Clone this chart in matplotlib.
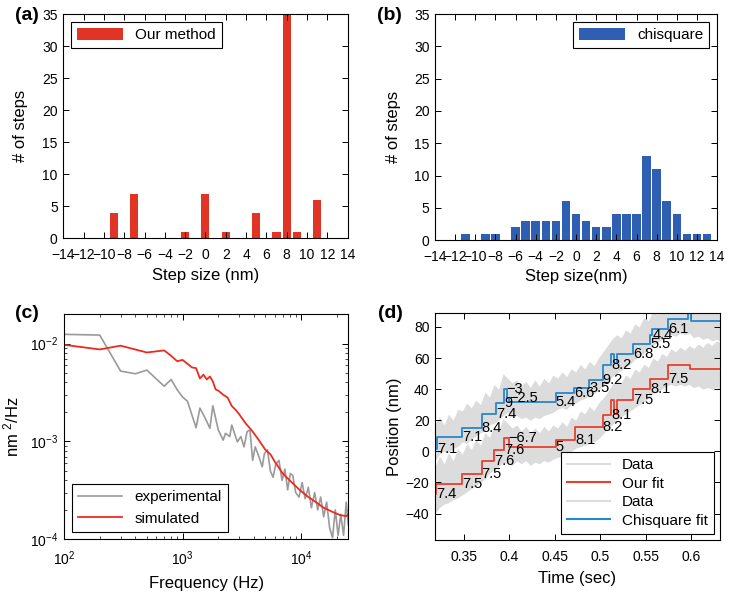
import matplotlib
matplotlib.use("Agg")
import matplotlib.pyplot as plt
from matplotlib.lines import Line2D

plt.rcParams["font.family"] = ["Liberation Sans", "DejaVu Sans"]
plt.rcParams["mathtext.fontset"] = "custom"
plt.rcParams["mathtext.rm"] = "Liberation Sans"
plt.rcParams["mathtext.it"] = "Liberation Sans:italic"

# (a) step size histogram, our method
ours_sizes = [-9, -7, -2, 0, 2, 5, 7, 8, 9, 11]
ours_counts = [4, 7, 1, 7, 1, 4, 1, 35, 1, 6]

# (b) step size histogram, chisquare
chi_sizes = [-11, -9, -8, -6, -5, -4, -3, -2, -1, 0, 1, 2, 3, 4, 5, 6, 7, 8, 9, 10, 11, 12, 13]
chi_counts = [1, 1, 1, 2, 3, 3, 3, 3, 6, 4, 3, 2, 2, 4, 4, 4, 13, 11, 6, 4, 1, 1, 1]

# (c) power spectra
exp_freq = [100, 200, 300, 400, 500, 700, 800, 900, 1000, 1100, 1300, 1400, 1500, 1600,
            1700, 1800, 1900, 2000, 2200, 2300, 2500, 2600, 2800, 2900, 3100, 3300, 3500,
            3700, 3900, 4100, 4400, 4700, 4900, 5200, 5500, 5800, 6100, 6500, 6900, 7300,
            7700, 8100, 8500, 9000, 9600, 10200, 10800, 11500, 12200, 13000, 13800, 14600,
            15500, 16400, 17400, 18400, 19400, 20500, 21600, 22800, 24000, 25000]
exp_psd = [0.0124, 0.0122, 0.00523, 0.00491, 0.00535, 0.00366, 0.00429, 0.00338, 0.00284,
           0.00257, 0.00138, 0.00219, 0.00187, 0.00160, 0.00136, 0.00231, 0.00173, 0.00131,
           0.00103, 0.00121, 0.00112, 0.00147, 0.00112, 0.00099, 0.00112, 0.00088, 0.00126,
           0.00131, 0.00064, 0.00088, 0.00070, 0.00055, 0.00075, 0.00082, 0.00050, 0.00043,
           0.00058, 0.00064, 0.00040, 0.00052, 0.00032, 0.00047, 0.00045, 0.00030, 0.00027,
           0.00038, 0.00026, 0.00034, 0.00021, 0.00030, 0.00020, 0.00027, 0.00017, 0.00024,
           0.00013, 0.000104, 0.00020, 0.00011, 0.00018, 0.00011, 0.00024, 0.00014]
sim_freq = [100, 200, 300, 500, 700, 800, 900, 1000, 1100, 1200, 1300, 1400, 1500, 1600,
            1700, 1800, 1900, 2000, 2200, 2400, 2600, 2800, 3000, 3400, 3700, 3900, 4400,
            5000, 5500, 6000, 7000, 8000, 9700, 11500, 13300, 15500, 18500, 21000, 24000, 25000]
sim_psd = [0.0097, 0.0087, 0.0095, 0.0081, 0.0085, 0.0075, 0.0066, 0.0068, 0.0062, 0.0057,
           0.0056, 0.0044, 0.0048, 0.0043, 0.0046, 0.0041, 0.0034, 0.0033, 0.0030, 0.0028,
           0.0023, 0.0021, 0.0019, 0.00153, 0.00136, 0.00126, 0.00103, 0.00082, 0.00074,
           0.00062, 0.00047, 0.00040, 0.00032, 0.00027, 0.00024, 0.00021, 0.00019, 0.000178,
           0.000172, 0.00018]

# (d) traces: noisy data envelopes and fitted staircases
data_t = [0.318, 0.323, 0.328, 0.333, 0.338, 0.343, 0.348, 0.353, 0.358, 0.363, 0.368,
          0.373, 0.378, 0.383, 0.388, 0.393, 0.398, 0.403, 0.408, 0.413, 0.418, 0.423,
          0.428, 0.433, 0.438, 0.443, 0.448, 0.453, 0.458, 0.463, 0.468, 0.473, 0.478,
          0.483, 0.488, 0.493, 0.498, 0.503, 0.508, 0.513, 0.518, 0.523, 0.528, 0.533,
          0.538, 0.543, 0.548, 0.553, 0.558, 0.563, 0.568, 0.573, 0.578, 0.583, 0.588,
          0.593, 0.598, 0.603, 0.608, 0.613, 0.618, 0.623, 0.628, 0.632]
upper_lo = [-6, -2, 0, -1, 2, 3, 6, 5, 8, 10, 12, 13, 17, 18, 20, 23, 25, 22, 23, 21, 22,
            20, 22, 21, 23, 24, 25, 27, 28, 27, 30, 31, 33, 34, 36, 37, 39, 42, 45, 48, 50,
            52, 54, 56, 59, 61, 63, 66, 68, 70, 72, 74, 75, 74, 76, 75, 76, 73, 74, 72, 73,
            71, 72, 71]
upper_hi = [18, 22, 17, 24, 20, 27, 26, 31, 28, 33, 30, 38, 35, 43, 40, 50, 47, 44, 46, 42,
            45, 41, 46, 42, 47, 44, 49, 47, 51, 48, 53, 51, 56, 53, 58, 55, 60, 64, 68, 72,
            75, 73, 78, 76, 82, 80, 86, 84, 90, 88, 92, 91, 95, 93, 95, 94, 96, 95, 94, 96,
            95, 94, 96, 95]
lower_lo = [-40, -36, -34, -33, -31, -30, -28, -26, -24, -22, -20, -18, -14, -12, -10, -7,
            -8, -9, -6, -8, -6, -9, -7, -8, -6, -7, -5, -4, -3, -4, 0, 2, 3, 4, 5, 6, 8, 11,
            14, 17, 20, 22, 24, 26, 28, 30, 32, 34, 37, 38, 40, 42, 43, 42, 43, 42, 43, 41,
            42, 40, 41, 40, 41, 40]
lower_hi = [-10, -3, -8, -1, -6, 2, -2, 5, 1, 8, 4, 12, 9, 16, 13, 21, 18, 15, 17, 13, 16,
            12, 15, 12, 16, 13, 17, 15, 19, 16, 22, 20, 26, 24, 29, 26, 31, 34, 38, 43, 46,
            44, 49, 47, 53, 51, 56, 54, 60, 58, 63, 61, 66, 64, 67, 65, 68, 66, 69, 67, 70,
            68, 71, 70]

chi_t = [0.318, 0.3202, 0.3475, 0.3695, 0.385, 0.394, 0.397, 0.400, 0.451, 0.4714, 0.488,
         0.5027, 0.512, 0.515, 0.519, 0.5365, 0.555, 0.5574, 0.5745, 0.5965, 0.600, 0.632]
chi_pos = [1.7, 9.2, 15.2, 23.8, 31, 40, 34, 31.7, 37.5, 41, 45.7, 55.3, 62.8, 57, 62.8,
           69.3, 74.6, 78.9, 85.3, 89, 84, 84]
chi_labels = ["", "7.1", "7.1", "8.4", "7.4", "9", "\u22123", "\u22122.5", "5.4", "6.6", "3.5",
              "9.2", "8.2", "", "", "6.8", "5.5", "4.4", "6.1", "", "", ""]

our_t = [0.318, 0.3195, 0.3475, 0.3695, 0.383, 0.394, 0.399, 0.451, 0.4725, 0.5027, 0.512,
         0.515, 0.519, 0.5365, 0.555, 0.5745, 0.599, 0.632]
our_pos = [-27.7, -21.2, -14.3, -6.2, 1.1, 8.6, 3.0, 7.5, 15.6, 23.2, 32.8, 24, 32.8, 39.9,
           46.8, 55.3, 53.2, 53.2]
our_labels = ["", "7.4", "7.5", "7.5", "7.6", "7.6", "\u22126.7", "5", "8.1", "8.2", "8.1",
              "", "", "7.5", "8.1", "7.5", "", ""]

RED_BAR = "#e03424"
BLUE_BAR = "#2f5fb3"
RED_LINE = "#ee2a1e"
GRAY_LINE = "#9a9a9a"
FIT_RED = "#e8402e"
FIT_BLUE = "#2a86cc"
DATA_GRAY = "#dcdcdc"


def style_axes(ax):
    ax.tick_params(direction="in", top=True, right=True, length=4, width=0.7,
                   labelsize=10, pad=4)
    ax.tick_params(axis="x", pad=7)
    ax.tick_params(which="minor", direction="in", top=True, right=True, length=2, width=0.5)
    for spine in ax.spines.values():
        spine.set_linewidth(0.8)


def box_legend(ax, **kw):
    leg = ax.legend(fancybox=False, framealpha=1, edgecolor="black", fontsize=11, **kw)
    leg.get_frame().set_linewidth(0.8)
    return leg


fig = plt.figure(figsize=(7.29, 5.96), dpi=100)

# (a)
ax = fig.add_axes([0.0868, 0.600, 0.390, 0.3765])
ax.bar(ours_sizes, ours_counts, width=0.8, color=RED_BAR, label="Our method")
ax.set_xlim(-14, 14)
ax.set_ylim(0, 35)
ax.set_xticks(range(-14, 15, 2))
ax.set_yticks(range(0, 36, 5))
ax.set_xlabel("Step size (nm)", fontsize=12, labelpad=4)
ax.set_ylabel("# of steps", fontsize=12, labelpad=10)
style_axes(ax)
box_legend(ax, loc="upper left", handlelength=3.0, handleheight=0.9, borderaxespad=0.5)

# (b)
ax = fig.add_axes([0.5967, 0.597, 0.387, 0.3795])
ax.bar(chi_sizes, chi_counts, width=0.85, color=BLUE_BAR, label="chisquare")
ax.set_xlim(-14, 14)
ax.set_ylim(0, 35)
ax.set_xticks(range(-14, 15, 2))
ax.set_yticks(range(0, 36, 5))
ax.set_xlabel("Step size(nm)", fontsize=12, labelpad=4)
ax.set_ylabel("# of steps", fontsize=12, labelpad=9)
style_axes(ax)
box_legend(ax, loc="upper right", handlelength=3.0, handleheight=0.9, borderaxespad=0.5)

# (c)
ax = fig.add_axes([0.0878, 0.0951, 0.390, 0.378])
ax.loglog(exp_freq, exp_psd, color=GRAY_LINE, lw=1.2, label="experimental")
ax.loglog(sim_freq, sim_psd, color=RED_LINE, lw=1.3, label="simulated")
ax.set_xlim(100, 25000)
ax.set_ylim(1e-4, 2e-2)
ax.set_xlabel("Frequency (Hz)", fontsize=12, labelpad=6)
ax.set_ylabel("nm $^2$/Hz", fontsize=12, labelpad=6)
style_axes(ax)
box_legend(ax, loc="lower left", handlelength=2.9, borderaxespad=0.5)

# (d)
ax = fig.add_axes([0.5967, 0.094, 0.391, 0.381])
ax.fill_between(data_t, lower_lo, lower_hi, color=DATA_GRAY, lw=0)
ax.fill_between(data_t, upper_lo, upper_hi, color=DATA_GRAY, lw=0)
ax.step(our_t, our_pos, where="post", color=FIT_RED, lw=1.3)
ax.step(chi_t, chi_pos, where="post", color=FIT_BLUE, lw=1.3)
for i in range(1, len(chi_t)):
    if chi_labels[i]:
        ax.text(chi_t[i], chi_pos[i - 1], chi_labels[i], ha="left", va="center", fontsize=10.5)
for i in range(1, len(our_t)):
    if our_labels[i]:
        ax.text(our_t[i], our_pos[i - 1], our_labels[i], ha="left", va="center", fontsize=10.5)
ax.set_xlim(0.318, 0.632)
ax.set_ylim(-57, 89)
ax.set_xticks([0.35, 0.4, 0.45, 0.5, 0.55, 0.6])
ax.set_xticklabels(["0.35", "0.4", "0.45", "0.5", "0.55", "0.6"])
ax.set_yticks(range(-40, 81, 20))
ax.set_xlabel("Time (sec)", fontsize=12, labelpad=5)
ax.set_ylabel("Position (nm)", fontsize=12, labelpad=3)
style_axes(ax)
handles = [Line2D([], [], color=DATA_GRAY, lw=1.5), Line2D([], [], color=FIT_RED, lw=1.5),
           Line2D([], [], color=DATA_GRAY, lw=1.5), Line2D([], [], color=FIT_BLUE, lw=1.5)]
leg = box_legend(ax, handles=handles, labels=["Data", "Our fit", "Data", "Chisquare fit"],
                 loc="lower right", handlelength=2.8, labelspacing=0.3, borderaxespad=0.4)

for lab, x, y in [("(a)", 15, 7), ("(b)", 377, 7), ("(c)", 15, 305), ("(d)", 378, 305)]:
    fig.text(x / 729, 1 - y / 596, lab, fontsize=14, fontweight="bold", ha="left", va="top")

fig.savefig("out.png", dpi=100)
